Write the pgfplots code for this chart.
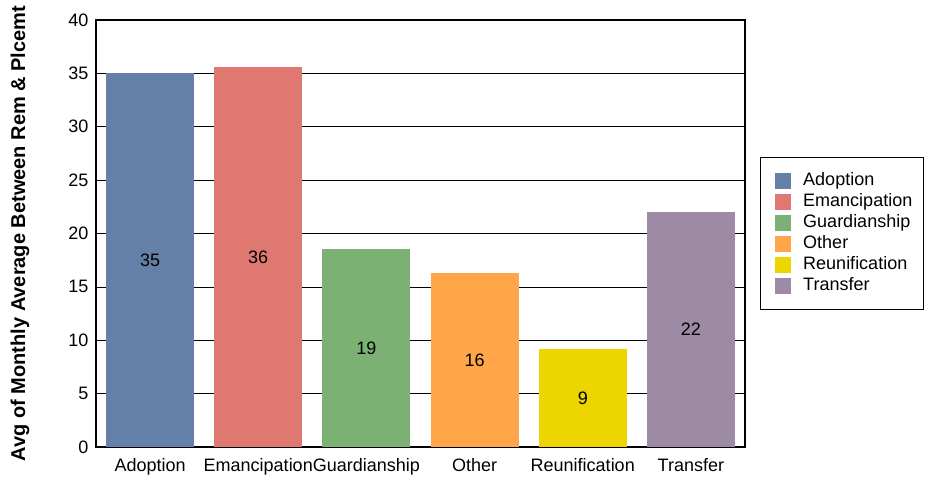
\documentclass[border=0pt]{standalone}
\usepackage{fontspec}
\setmainfont{Liberation Sans}
\usepackage{pgfplots}
\pgfplotsset{compat=1.18}
\definecolor{cAdo}{HTML}{6580A8}
\definecolor{cEma}{HTML}{E07872}
\definecolor{cGua}{HTML}{7BB274}
\definecolor{cOth}{HTML}{FFA54A}
\definecolor{cReu}{HTML}{EDD500}
\definecolor{cTra}{HTML}{9D8BA6}
\begin{document}
\begin{tikzpicture}[x=1pt,y=1pt]
\useasboundingbox (0,0) rectangle (926,481);
\begin{axis}[
  at={(96pt,34pt)}, anchor=south west,
  scale only axis, width=649pt, height=427pt,
  ybar, bar shift=0pt, bar width=88pt,
  xmin=-0.5, xmax=5.5, ymin=0, ymax=40,
  xtick={0,1,2,3,4,5},
  xticklabels={Adoption,Emancipation,Guardianship,Other,Reunification,Transfer},
  ytick={0,5,...,40},
  major tick length=0pt,
  ymajorgrids, grid style={black, line width=0.7pt},
  axis line style={black, line width=1.2pt},
  tick label style={font=\fontsize{18}{21}\selectfont},
  /pgf/number format/assume math mode=true,
  xticklabel style={yshift=-8pt},
  yticklabel style={xshift=-4pt},
  ylabel={\bfseries Avg of Monthly Average Between Rem \& Plcemt},
  every axis y label/.style={at={(axis description cs:-0.117,0.5)}, rotate=90, anchor=center, font=\fontsize{20}{23}\selectfont},
  nodes near coords={\pgfmathprintnumber[fixed,precision=0,assume math mode=true]{\pgfplotspointmeta}},
  point meta=y,
  visualization depends on=y \as \rawy,
  every node near coord/.append style={anchor=center, font=\fontsize{18}{21}\selectfont, black, shift={(axis direction cs:0,-\rawy/2)}},
  legend style={at={(axis description cs:1.023,0.679)}, anchor=north west, draw=black, line width=0.6pt,
    font=\fontsize{18}{21}\selectfont, row sep=0pt, inner xsep=9pt, inner ysep=13pt,
    nodes={inner ysep=0pt, text height=15pt, text depth=6pt}},
  legend cell align=left,
  legend image code/.code={\fill[#1] (6pt,-8pt) rectangle (22pt,8pt); \path (0pt,0pt) (32pt,0pt);},
]
\addplot[fill=cAdo, draw=none] coordinates {(0,35.0)};
\addplot[fill=cEma, draw=none] coordinates {(1,35.6)};
\addplot[fill=cGua, draw=none] coordinates {(2,18.55)};
\addplot[fill=cOth, draw=none] coordinates {(3,16.3)};
\addplot[fill=cReu, draw=none] coordinates {(4,9.2)};
\addplot[fill=cTra, draw=none] coordinates {(5,22.0)};
\legend{Adoption,Emancipation,Guardianship,Other,Reunification,Transfer}
\end{axis}
\end{tikzpicture}
\end{document}
